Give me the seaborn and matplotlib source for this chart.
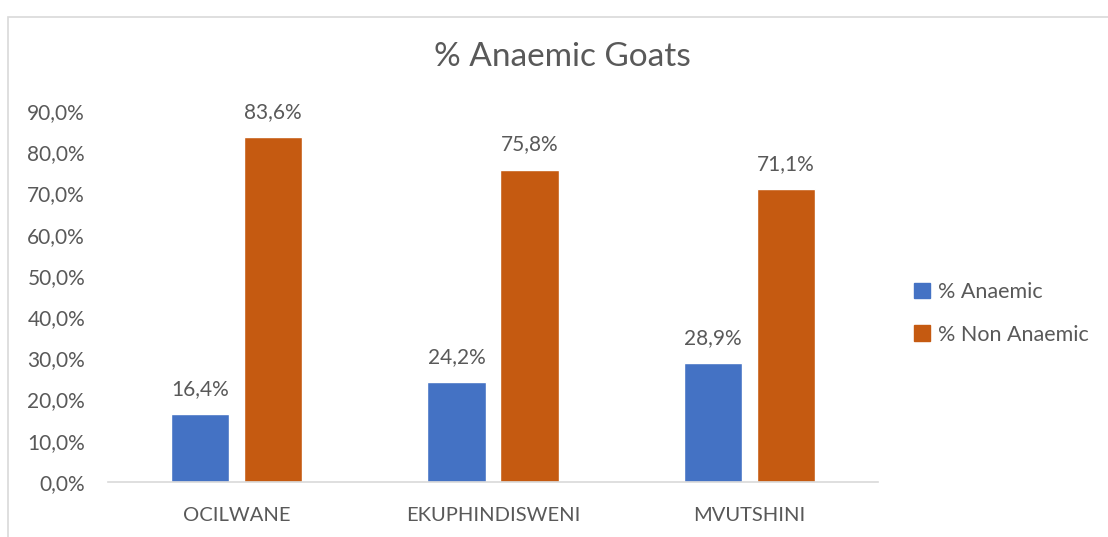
import pandas as pd
import matplotlib
matplotlib.use("Agg")
import matplotlib.pyplot as plt
import matplotlib.patches as mpatches
import matplotlib.ticker as mticker
import seaborn as sns

# Data
regions = ["OCILWANE", "EKUPHINDISWENI", "MVUTSHINI"]
anaemic = [16.4, 24.2, 28.9]
non_anaemic = [83.6, 75.8, 71.1]
series_names = ["% Anaemic", "% Non Anaemic"]
colors = ["#4472C4", "#C55A11"]

df = pd.DataFrame({
    "region": regions * 2,
    "series": [series_names[0]] * 3 + [series_names[1]] * 3,
    "value": anaemic + non_anaemic,
})

sns.set_style("white")
plt.rcParams["font.family"] = ["Lato", "DejaVu Sans"]
text_color = "#595959"

fig = plt.figure(figsize=(11.08, 5.37), dpi=100)
ax = fig.add_axes([0.0975, 0.1024, 0.6949, 0.6909])

sns.barplot(data=df, x="region", y="value", hue="series", order=regions,
            hue_order=series_names, palette=colors, width=0.57, gap=0.2,
            saturation=1, ax=ax)

# value labels above bars
for container in ax.containers:
    labels = [f"{v:.1f}%".replace(".", ",") for v in container.datavalues]
    ax.bar_label(container, labels=labels, padding=11, fontsize=15, color=text_color)

ax.set_ylim(0, 90)
ax.set_xlim(-0.5, 2.5)
ax.yaxis.set_major_locator(mticker.MultipleLocator(10))
ax.yaxis.set_major_formatter(mticker.FuncFormatter(lambda v, p: f"{v:.1f}%".replace(".", ",")))
ax.set_xlabel("")
ax.set_ylabel("")

# category separator ticks on the x axis
ax.set_xticks([0, 1, 2])
ax.set_xticks([-0.5, 0.5, 1.5, 2.5], minor=True)
ax.tick_params(axis="x", which="major", length=0, pad=18, labelsize=14.5, labelcolor=text_color)
ax.tick_params(axis="x", which="minor", length=6, width=1.2, color="#D9D9D9", direction="out")
ax.tick_params(axis="y", length=0, pad=16.5, labelsize=15, labelcolor=text_color)

for side in ["left", "right", "top"]:
    ax.spines[side].set_visible(False)
ax.spines["bottom"].set_color("#D9D9D9")
ax.spines["bottom"].set_linewidth(1.2)

fig.text(0.508, 0.893, "% Anaemic Goats", ha="center", va="center",
         fontsize=24, color=text_color)

handles = [mpatches.Patch(color=c, label=n) for c, n in zip(colors, series_names)]
ax.legend(handles=handles, loc="center left", bbox_to_anchor=(1.022, 0.455),
          frameon=False, fontsize=15.5, labelcolor=text_color, handlelength=0.75,
          handleheight=0.75, handletextpad=0.35, labelspacing=1.05)

# outer chart border
fig.patches.append(mpatches.Rectangle((8 / 1108, -0.01), 1.0, 0.99 - 12 / 537 + 0.01,
                                      transform=fig.transFigure, fill=False,
                                      edgecolor="#D9D9D9", linewidth=1.2))

fig.savefig("out.png", dpi=100)
